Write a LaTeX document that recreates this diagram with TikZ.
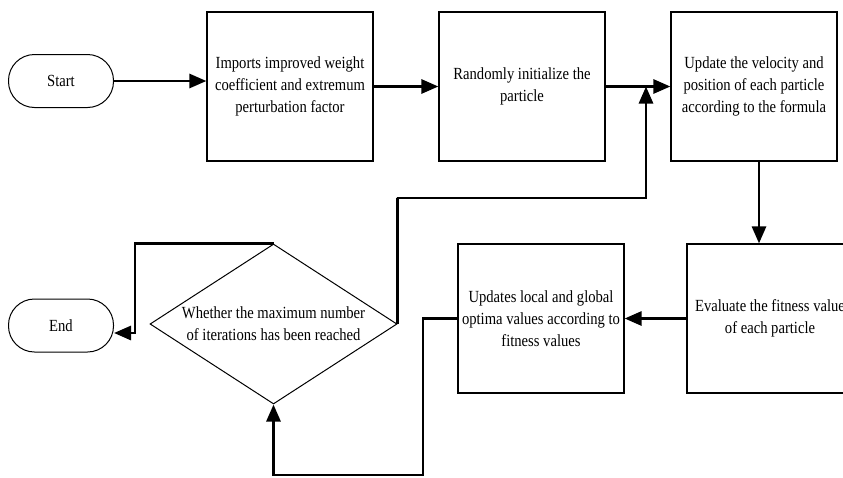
\documentclass[tikz,border=0pt]{standalone}
\usepackage{fontspec}
\setmainfont{Liberation Serif}[FakeStretch=0.86]
\usetikzlibrary{arrows.meta,shapes.geometric,calc}
\begin{document}
\begin{tikzpicture}[x=1pt,y=-1pt,
  every node/.style={font=\fontsize{17}{22}\selectfont, align=center, inner sep=0pt},
  box/.style={draw, line width=1.2pt, minimum width=166pt, minimum height=149pt},
  term/.style={draw, line width=1pt, rounded corners=26pt, minimum width=105pt, minimum height=53pt},
  decision/.style={draw, line width=1pt, diamond, minimum width=247pt, minimum height=160pt},
  flow/.style={line width=2.8pt, -{Triangle[length=17pt,width=14pt]}},
  link/.style={line width=2.8pt}]
\useasboundingbox (0,0) rectangle (843,477);
\clip (0,0) rectangle (843,477);

% terminals
\node[term] (start) at (61,81) {Start};
\node[term] (end) at (61,325.5) {End};

% process steps
\node[box] (b1) at (290,86.5) {Imports improved weight\\coefficient and extremum\\perturbation factor};
\node[box] (b2) at (522,86.5) {Randomly initialize the\\particle};
\node[box] (b3) at (754,86.5) {Update the velocity and\\position of each particle\\according to the formula};
\node[box] (b4) at (770,318.5) {Evaluate the fitness value\\of each particle};
\node[box] (b5) at (541,318.5) {Updates local and global\\optima values according to\\fitness values};

% termination test
\node[decision, label={[align=center]center:Whether the maximum number\\of iterations has been reached}] (dec) at (273.5,324) {};

% bend points of the routed connectors
\coordinate (lowturn) at (423,475);
\coordinate (upturn) at (397,198);
\coordinate (join) at (646,86.5);
\coordinate (endturn) at (135,333);

% main sequence
\draw[flow] (start.east) -- (start.east -| b1.west);
\draw[flow] (b1) -- (b2);
\draw[flow] (b2) -- (b3);
\draw[flow] ([xshift=5pt]b3.south) -- ([xshift=5pt]b3.south |- b4.north);
\draw[flow] (b4) -- (b5);
\draw[flow] (b5.west) -| (lowturn) -| (dec.south);

% loop back when the limit is not reached
\draw[flow] (dec.east) |- (upturn) -| (join);

% exit to End
\draw[flow] (dec.north) -| (endturn) -- (endturn -| end.east);
\end{tikzpicture}
\end{document}
